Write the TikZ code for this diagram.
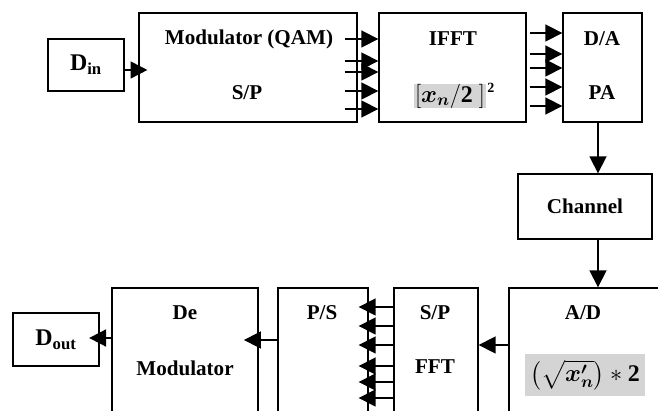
\documentclass[tikz,border=0pt]{standalone}
\usepackage{amsmath, amssymb}
\usepackage{bm}
\usepackage{fontspec}
\setmainfont{Liberation Serif}
\usepackage{xcolor}
\usetikzlibrary{arrows.meta, positioning, calc}

\begin{document}
\begin{tikzpicture}[
    x=0.025cm, y=-0.025cm,
    every node/.style={font=\fontsize{15}{18}\selectfont\bfseries},
    block/.style={rectangle, draw, line width=0.95pt, inner sep=0pt},
    txt/.style={inner sep=0pt},
    shade/.style={fill=black!17, inner sep=0pt, font=\fontsize{17}{20}\selectfont\bfseries},
    arrow/.style={-{Triangle[length=12pt, width=12pt]}, line width=1.2pt}
]
    \useasboundingbox (0,0) rectangle (658,411);

    % transmitter
    \node[block, minimum width=1.9cm, minimum height=1.3cm] (din) at (86,65)
        {\fontsize{17}{20}\selectfont D\textsubscript{in}};
    \node[block, minimum width=5.45cm, minimum height=2.725cm] (mod) at (248,67.5) {};
    \node[block, minimum width=3.675cm, minimum height=2.725cm] (ifft) at (452.5,67.5) {};
    \node[block, minimum width=1.975cm, minimum height=2.725cm] (dapa) at (602.5,67.5) {};
    \node[block, minimum width=3.35cm, minimum height=1.625cm] (chan) at (585,206.5) {Channel};

    \node[txt] (modt) at (249,39) {Modulator (QAM)};
    \node[txt] (modsp) at (247,93) {S/P};
    \node[txt] (iffft) at (453,39) {IFFT};
    \node[shade, minimum width=1.8cm, minimum height=0.42cm] (ifmath) at (450,96)
        {$[\bm{x_n}/\mathbf{2}\ ]$};
    \node[txt, anchor=west, font=\fontsize{10}{12}\selectfont\bfseries] (ifsup)
        at (487,88) {2};
    \node[txt] (dat) at (602,39) {D/A};
    \node[txt] (pat) at (602,93) {PA};

    % receiver
    \node[block, minimum width=4.775cm, minimum height=4.05cm] (ad) at (604.5,369) {};
    \node[block, minimum width=2.1cm, minimum height=4.05cm] (spfft) at (436,369) {};
    \node[block, minimum width=2.25cm, minimum height=4.05cm] (ps) at (323,369) {};
    \node[block, minimum width=3.65cm, minimum height=4.05cm] (demod) at (185,369) {};
    \node[block, minimum width=2.15cm, minimum height=1.325cm] (dout) at (56,339.5)
        {\fontsize{17}{20}\selectfont D\textsubscript{out}};

    \node[txt] (adt) at (583,313) {A/D};
    \node[shade, minimum width=3cm, minimum height=1.05cm] (admath) at (585,375)
        {$\left(\sqrt{\bm{x_n'}}\right) * \mathbf{2}$};
    \node[txt] (spt) at (435,313) {S/P};
    \node[txt] (fftt) at (435,367) {FFT};
    \node[txt] (pst) at (322,313) {P/S};
    \node[txt] (det) at (185,313) {De};
    \node[txt] (demt) at (185,368) {Modulator};

    % connectors
    \draw[arrow, shorten >=-6.5pt] (din.east |- 0,70) -- (mod.west |- 0,70);
    \foreach \y in {39,61,72,91,109}
        \draw[arrow] ($(mod.east |- 0,\y)+(-13,0)$) -- (ifft.west |- 0,\y);
    \foreach \y in {33,54,68,87,106}
        \draw[arrow] ($(ifft.east |- 0,\y)+(3,0)$) -- (dapa.west |- 0,\y);
    \draw[arrow] (598,0 |- dapa.south) -- (598,0 |- chan.north);
    \draw[arrow] (598,0 |- chan.south) -- (598,0 |- ad.north);
    \draw[arrow] (ad.west |- 0,345) -- (spfft.east |- 0,345);
    \foreach \y in {307,326,345,366,382,398}
        \draw[arrow] (spfft.west |- 0,\y) -- ($(ps.east |- 0,\y)+(-10,0)$);
    \draw[arrow, shorten >=-10.5pt] (ps.west |- 0,340) -- (demod.east |- 0,340);
    \draw[arrow, shorten >=-7.5pt] (demod.west |- 0,338) -- (dout.east |- 0,338);
\end{tikzpicture}
\end{document}
